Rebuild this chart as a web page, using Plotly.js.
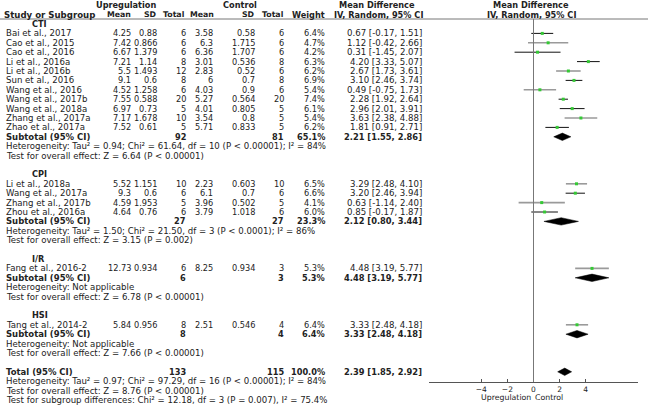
<!DOCTYPE html>
<html>
<head>
<meta charset="utf-8">
<script src="https://cdn.plot.ly/plotly-3.0.1.min.js"></script>
<style>
  body { margin: 0; background: #fff; }
  #graph { width: 655px; height: 406px; }
</style>
</head>
<body>
<div id="graph"></div>
<script>
// studies, in the order they are listed
const studies = ['Bai et al., 2017', 'Cao et al., 2015', 'Cao et al., 2016', 'Li et al., 2016a',
  'Li et al., 2016b', 'Sun et al., 2016', 'Wang et al., 2016', 'Wang et al., 2017b',
  'Wang et al., 2018a', 'Zhang et al., 2017a', 'Zhao et al., 2017a',
  'Li et al., 2018a', 'Wang et al., 2017a', 'Zhang et al., 2017b', 'Zhou et al., 2016a',
  'Fang et al., 2016-2', 'Tang et al., 2014-2'];
const studyGroup = [0,0,0,0,0,0,0,0,0,0,0, 1,1,1,1, 2, 3];

const upMean = [4.25, 7.42, 6.67, 7.21, 5.5, 9.1, 4.52, 7.55, 6.97, 7.17, 7.52, 5.52, 9.3, 4.59, 4.64, 12.73, 5.84];
const upSD = [0.88, 0.866, 1.379, 1.14, 1.493, 0.6, 1.258, 0.588, 0.73, 1.678, 0.61, 1.151, 0.6, 1.953, 0.76, 0.934, 0.956];
const upN = [6, 6, 6, 8, 12, 8, 6, 20, 5, 10, 5, 10, 6, 5, 6, 6, 8];
const ctMean = [3.58, 6.3, 6.36, 3.01, 2.83, 6, 4.03, 5.27, 4.01, 3.54, 5.71, 2.23, 6.1, 3.96, 3.79, 8.25, 2.51];
const ctSD = [0.58, 1.715, 1.707, 0.536, 0.52, 0.7, 0.9, 0.564, 0.805, 0.8, 0.833, 0.603, 0.7, 0.502, 1.018, 0.934, 0.546];
const ctN = [6, 6, 6, 8, 6, 8, 6, 20, 5, 5, 5, 10, 6, 5, 6, 3, 4];
const weight = [6.4, 4.7, 4.2, 6.3, 6.2, 6.9, 5.4, 7.4, 6.1, 5.4, 6.2, 6.5, 6.6, 4.1, 6.0, 5.3, 6.4];
const md = [0.67, 1.12, 0.31, 4.20, 2.67, 3.10, 0.49, 2.28, 2.96, 3.63, 1.81, 3.29, 3.20, 0.63, 0.85, 4.48, 3.33];
const ciLo = [-0.17, -0.42, -1.45, 3.33, 1.73, 2.46, -0.75, 1.92, 2.01, 2.38, 0.91, 2.48, 2.46, -1.14, -0.17, 3.19, 2.48];
const ciHi = [1.51, 2.66, 2.07, 5.07, 3.61, 3.74, 1.73, 2.64, 3.91, 4.88, 2.71, 4.10, 3.94, 2.40, 1.87, 5.77, 4.18];

// subgroups
const groups = ['CTI', 'CPI', 'I/R', 'HSI'];
const subUpN = [92, 27, 6, 8];
const subCtN = [81, 27, 3, 4];
const subWeight = [65.1, 23.3, 5.3, 6.4];
const subMd = [2.21, 2.12, 4.48, 3.33];
const subLo = [1.55, 0.80, 3.19, 2.48];
const subHi = [2.86, 3.44, 5.77, 4.18];
const subHet = ['Tau² = 0.94; Chi² = 61.64, df = 10 (P < 0.00001); I² = 84%',
  'Tau² = 1.50; Chi² = 21.50, df = 3 (P < 0.0001); I² = 86%',
  'Not applicable', 'Not applicable'];
const subZ = ['Z = 6.64 (P < 0.00001)', 'Z = 3.15 (P = 0.002)', 'Z = 6.78 (P < 0.00001)', 'Z = 7.66 (P < 0.00001)'];

// overall
const totUpN = 133, totCtN = 115, totWeight = 100.0;
const totMd = 2.39, totLo = 1.85, totHi = 2.92;
const totHet = 'Tau² = 0.97; Chi² = 97.29, df = 16 (P < 0.00001); I² = 84%';
const totZ = 'Z = 8.76 (P < 0.00001)';
const subDiff = 'Chi² = 12.18, df = 3 (P = 0.007), I² = 75.4%';

const xTicks = [-4, -2, 0, 2, 4];

// gray CI lines (drawn lighter in the original)
const ciGray = [false, true, false, false, true, false, true, false, false, true, false, true, false, true, false, true, true];

// ---- layout helpers ----
const W = 655, H = 406;
const FONT = 'DejaVu Sans';
const FS_TXT = 8.6;   // names, notes, CI column
const FS_NUM = 8.2;   // numeric columns
const FS_HEAD = 8.2;  // bold headers
function rowY(i) { return 5.2 + 9.4 * i; }
function num(v) { return (v < 0 ? '-' : '') + Math.abs(v).toFixed(2); }
function ci(m, l, h) { return num(m) + ' [' + num(l) + ', ' + num(h) + ']'; }

const ann = [];
function txt(x, y, text, anchor, bold, size) {
  ann.push({
    xref: 'paper', yref: 'y', x: x / W, y: y,
    text: bold ? '<b>' + text + '</b>' : text,
    xanchor: anchor, yanchor: 'middle', showarrow: false,
    borderpad: 0, borderwidth: 0,
    font: { family: FONT, size: size, color: '#222' }
  });
}

// column right edges
const col = { upMean: 131, upSD: 157, upN: 186, ctMean: 213, ctSD: 255, ctN: 284, w: 325, md: 422 };

// headers
txt(126, rowY(0), 'Upregulation', 'center', true, FS_HEAD);
txt(240, rowY(0), 'Control', 'center', true, FS_HEAD);
txt(377, rowY(0), 'Mean Difference', 'center', true, FS_HEAD);
txt(531, rowY(0), 'Mean Difference', 'center', true, FS_HEAD);
txt(4, rowY(1), 'Study or Subgroup', 'left', true, FS_HEAD + 0.4);
txt(col.upMean, rowY(1), 'Mean', 'right', true, 7.8);
txt(col.upSD, rowY(1), 'SD', 'right', true, 7.8);
txt(col.upN - 1, rowY(1), 'Total', 'right', true, 7.8);
txt(col.ctMean + 1, rowY(1), 'Mean', 'right', true, 7.8);
txt(col.ctSD, rowY(1), 'SD', 'right', true, 7.8);
txt(col.ctN, rowY(1), 'Total', 'right', true, 7.8);
txt(col.w, rowY(1), 'Weight', 'right', true, FS_HEAD);
txt(378, rowY(1), 'IV, Random, 95% CI', 'center', true, FS_HEAD);
txt(531, rowY(1), 'IV, Random, 95% CI', 'center', true, FS_HEAD);

const traces = [];
const studyY = [];

function diamond(m, l, h, y) {
  traces.push({
    x: [l, m, h, m, l], y: [y, y - 3.7, y, y + 3.7, y],
    mode: 'lines', fill: 'toself', fillcolor: '#000',
    line: { color: '#000', width: 0.5 }, hoverinfo: 'skip'
  });
}

let line = 2;
groups.forEach(function (g, gi) {
  txt(32, rowY(line), g, 'left', true, FS_HEAD);
  line++;
  studies.forEach(function (s, i) {
    if (studyGroup[i] !== gi) return;
    const y = rowY(line);
    studyY[i] = y;
    txt(6, y, s, 'left', false, FS_TXT);
    txt(col.upMean, y, String(upMean[i]), 'right', false, FS_NUM);
    txt(col.upSD, y, String(upSD[i]), 'right', false, FS_NUM);
    txt(col.upN, y, String(upN[i]), 'right', false, FS_NUM);
    txt(col.ctMean, y, String(ctMean[i]), 'right', false, FS_NUM);
    txt(col.ctSD, y, String(ctSD[i]), 'right', false, FS_NUM);
    txt(col.ctN, y, String(ctN[i]), 'right', false, FS_NUM);
    txt(col.w, y, weight[i].toFixed(1) + '%', 'right', false, FS_NUM);
    txt(col.md, y, ci(md[i], ciLo[i], ciHi[i]), 'right', false, FS_TXT);
    traces.push({
      x: [ciLo[i], ciHi[i]], y: [y, y], mode: 'lines', hoverinfo: 'skip',
      line: { color: ciGray[i] ? '#9a9a9a' : '#111', width: ciGray[i] ? 1.6 : 1 }
    });
    line++;
  });
  const ys = rowY(line);
  txt(6, ys, 'Subtotal (95% CI)', 'left', true, FS_HEAD + 0.3);
  txt(col.upN, ys, String(subUpN[gi]), 'right', true, FS_NUM);
  txt(col.ctN, ys, String(subCtN[gi]), 'right', true, FS_NUM);
  txt(col.w, ys, subWeight[gi].toFixed(1) + '%', 'right', true, FS_NUM);
  txt(col.md, ys, ci(subMd[gi], subLo[gi], subHi[gi]), 'right', true, FS_TXT - 0.3);
  diamond(subMd[gi], subLo[gi], subHi[gi], ys);
  line++;
  txt(6, rowY(line), 'Heterogeneity: ' + subHet[gi], 'left', false, FS_TXT);
  line++;
  txt(6, rowY(line), 'Test for overall effect: ' + subZ[gi], 'left', false, FS_TXT);
  line += 2;
});

// total block
const yt = rowY(line);
txt(6, yt, 'Total (95% CI)', 'left', true, FS_HEAD + 0.3);
txt(col.upN, yt, String(totUpN), 'right', true, FS_NUM);
txt(col.ctN, yt, String(totCtN), 'right', true, FS_NUM);
txt(col.w, yt, totWeight.toFixed(1) + '%', 'right', true, FS_NUM);
txt(col.md, yt, ci(totMd, totLo, totHi), 'right', true, FS_TXT - 0.3);
diamond(totMd, totLo, totHi, yt);
txt(6, rowY(line + 1), 'Heterogeneity: ' + totHet, 'left', false, FS_TXT);
txt(6, rowY(line + 2), 'Test for overall effect: ' + totZ, 'left', false, FS_TXT);
txt(6, rowY(line + 3), 'Test for subgroup differences: ' + subDiff, 'left', false, FS_TXT);

// study point estimates (small green squares)
traces.push({
  x: md, y: studyY, mode: 'markers', hoverinfo: 'skip',
  marker: { symbol: 'square', size: 3, color: '#35c935' }
});

// axis captions
txt(531, 397.5, 'Upregulation', 'right', false, 7.8);
txt(535, 397.5, 'Control', 'left', false, 7.8);

const axisY = 382;
const layout = {
  width: W, height: H,
  margin: { l: 0, r: 0, t: 0, b: 0 },
  paper_bgcolor: '#fff', plot_bgcolor: 'rgba(0,0,0,0)',
  showlegend: false,
  xaxis: {
    domain: [429 / W, 638 / W], range: [-8, 8],
    anchor: 'free', position: (H - axisY) / H,
    showline: true, linecolor: '#555', linewidth: 1,
    ticks: 'inside', ticklen: 3, tickcolor: '#555',
    tickvals: xTicks, showgrid: false, zeroline: false,
    tickfont: { family: FONT, size: 7.5, color: '#222' }
  },
  yaxis: { domain: [0, 1], range: [H, 0], visible: false, showgrid: false, zeroline: false },
  shapes: [
    { type: 'line', xref: 'paper', yref: 'y', x0: 0, x1: 648 / W, y0: 19, y1: 19,
      line: { color: '#777', width: 1 } },
    { type: 'line', xref: 'x', yref: 'y', x0: 0, x1: 0, y0: 19, y1: axisY,
      line: { color: '#777', width: 1 } }
  ],
  annotations: ann
};

Plotly.newPlot('graph', traces, layout, { staticPlot: true, displayModeBar: false });
</script>
</body>
</html>
